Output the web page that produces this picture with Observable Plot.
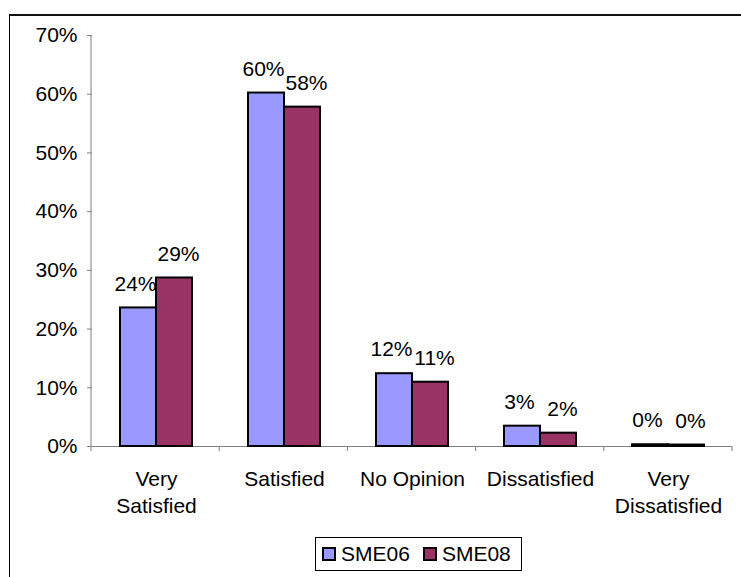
<!DOCTYPE html>
<html>
<head>
<meta charset="utf-8">
<script src="https://cdn.jsdelivr.net/npm/d3@7"></script>
<script src="https://cdn.jsdelivr.net/npm/@observablehq/plot@0.6"></script>
<style>
  body { margin: 0; background: #fff; font-family: "Liberation Sans", Arial, sans-serif; }
  #page { position: relative; width: 741px; height: 577px; overflow: hidden; background: #fff; }
  #border { position: absolute; left: 9px; top: 14px; width: 800px; height: 700px;
            border-top: 2px solid #111; border-left: 1px solid #000; }
  #chart { position: absolute; left: 0; top: 0; }
  #legend { position: absolute; left: 315px; top: 537px; width: 205px; height: 32px;
            border: 1px solid #000; background: #fff; display: flex; align-items: center;
            font-size: 21px; color: #000; }
  .item { display: flex; align-items: center; }
  .swatch { width: 14px; height: 14px; box-sizing: border-box; border: 2px solid #000; }
  .item span.lbl { margin-left: 5px; }
</style>
</head>
<body>
<div id="page">
  <div id="border"></div>
  <div id="chart"></div>
  <div id="legend"></div>
</div>
<script>
// Satisfaction survey: share of respondents per answer, two survey waves
const categories = ["Very Satisfied", "Satisfied", "No Opinion", "Dissatisfied", "Very Dissatisfied"];
const categoryLabels = ["Very\nSatisfied", "Satisfied", "No Opinion", "Dissatisfied", "Very\nDissatisfied"];
const series = ["SME06", "SME08"];
const sme06 = [0.236, 0.602, 0.124, 0.0346, 0.003];
const sme08 = [0.287, 0.578, 0.1095, 0.0227, 0.0025];
const seriesColors = ["#9999FF", "#993366"];
const yTicks = [0, 0.1, 0.2, 0.3, 0.4, 0.5, 0.6, 0.7];

const pct = d3.format(".0%");
const values = [sme06, sme08];
const rows = categories.flatMap((c, i) =>
  series.map((s, j) => ({ category: c, series: s, value: values[j][i] }))
);
const labelOf = new Map(categories.map((c, i) => [c, categoryLabels[i]]));

// value labels sit above each bar, nudged apart so neighbouring labels don't collide
const valueLabels = (s, dx) => Plot.text(rows.filter(d => d.series === s), {
  fx: "category", x: "series", y: "value", text: d => pct(d.value),
  dy: -24, dx, fill: "#000"
});

const chart = Plot.plot({
  width: 741,
  height: 525,
  marginLeft: 91,
  marginRight: 9,
  marginTop: 35,
  marginBottom: 79,
  style: { fontFamily: "'Liberation Sans', Arial, sans-serif", fontSize: "21px", color: "#000", background: "transparent" },
  fx: { domain: categories, padding: 0, label: null },
  x: { domain: series, paddingInner: 0, paddingOuter: 0.73, axis: null },
  y: { domain: [0, 0.7], label: null },
  color: { domain: series, range: seriesColors },
  marks: [
    Plot.axisY({ ticks: yTicks, tickFormat: pct, tickSize: 5, tickPadding: 10,
                 stroke: "#808080", fill: "#000", label: null, anchor: "left" }),
    Plot.axisFx({ anchor: "bottom", tickSize: 0, tickPadding: 21, lineHeight: 1.27,
                  tickFormat: d => labelOf.get(d), label: null }),
    Plot.ruleY([0], { stroke: "#808080" }),
    Plot.barY(rows, { fx: "category", x: "series", y: "value", fill: "series",
                      stroke: "#000", strokeWidth: 2 }),
    valueLabels("SME06", -3),
    valueLabels("SME08", 4)
  ]
});

// Value axis line and category boundary ticks, placed with the plot's scales
const fxS = chart.scale("fx");
const yS = chart.scale("y");
const band = d3.scaleBand(fxS.domain, fxS.range).paddingInner(0).paddingOuter(0);
const y0 = yS.apply(0);
const yTop = yS.apply(d3.max(yTicks));
const edges = [...categories.map(c => band(c)), band(categories[categories.length - 1]) + band.bandwidth()];
const g = d3.select(chart).append("g").attr("stroke", "#808080").attr("stroke-width", 1);
g.append("line").attr("x1", edges[0]).attr("x2", edges[0]).attr("y1", yTop).attr("y2", y0);
g.selectAll("line.edge").data(edges).join("line").attr("class", "edge")
  .attr("x1", d => d).attr("x2", d => d).attr("y1", y0).attr("y2", y0 + 5);

document.getElementById("chart").append(chart);

// Legend
const legend = d3.select("#legend");
series.forEach((s, i) => {
  const item = legend.append("div").attr("class", "item")
    .style("margin-left", i === 0 ? "6px" : "13px");
  item.append("div").attr("class", "swatch").style("background", seriesColors[i]);
  item.append("span").attr("class", "lbl").text(s);
});
</script>
</body>
</html>
